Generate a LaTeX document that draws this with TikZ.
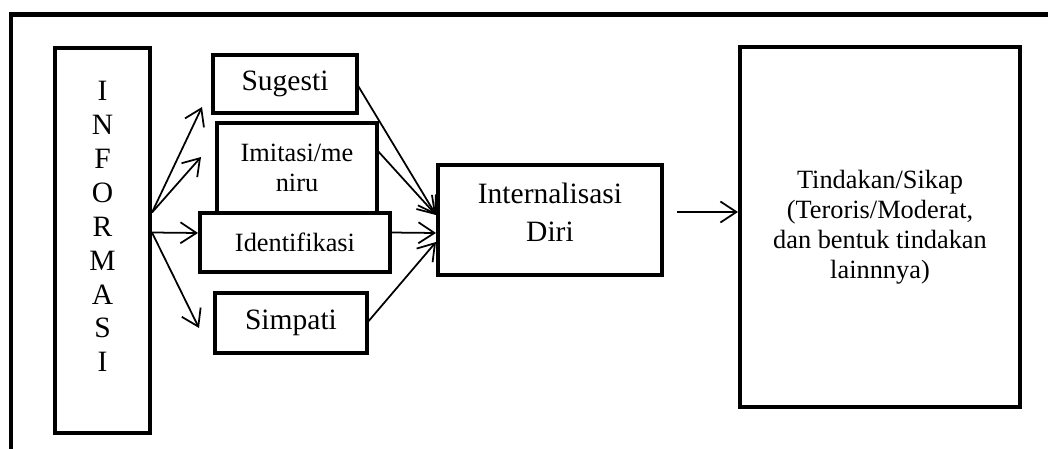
\documentclass[tikz,border=0pt]{standalone}
\usepackage{fontspec}
\setmainfont{Liberation Serif}
\usetikzlibrary{arrows.meta,calc}
\begin{document}
\begin{tikzpicture}[x=0.02cm,y=-0.02cm,
  box/.style={draw,line width=0.08cm,fill=white,inner sep=0pt,outer sep=0pt,align=center},
  arr/.style={line width=1pt,-{Straight Barb[length=0.32cm,width=0.42cm,line width=1pt]}},
  big/.style={font=\fontsize{16.8}{19.3}\selectfont},
  small/.style={font=\fontsize{15}{17}\selectfont}]
\useasboundingbox (0,0) rectangle (1048,449);
\draw[line width=0.1cm] (11,449) -- (11,15) -- (1048,15);

\node[box,big,minimum width=1.9cm,minimum height=7.7cm] (info) at (102.5,240.5) {I\\N\\F\\O\\R\\M\\A\\S\\I\\[-0.12cm]\mbox{}};
\node[box,big,minimum width=2.88cm,minimum height=1.16cm] (sugesti) at (285,84) {Sugesti};
\node[box,small,minimum width=3.2cm,minimum height=1.8cm] (imitasi) at (297,168) {Imitasi/me\\niru};
\node[box,small,minimum width=3.8cm,minimum height=1.18cm] (identifikasi) at (295,242.5) {Identifikasi};
\node[box,big,minimum width=3.04cm,minimum height=1.2cm] (simpati) at (291,323) {Simpati};
\node[box,font=\fontsize{16.8}{22}\selectfont,minimum width=4.48cm,minimum height=2.2cm] (intern) at (550,220) {Internalisasi\\Diri\\[-0.46cm]\mbox{}};
\node[box,small,minimum width=5.6cm,minimum height=7.2cm] (tindakan) at (880,227) {Tindakan/Sikap\\(Teroris/Moderat,\\dan bentuk tindakan\\lainnnya)};

\coordinate (f1) at ($(info.east)+(2,-28)$);
\coordinate (f2) at ($(info.east)+(2,-8)$);
\coordinate (t1) at (202,107);
\coordinate (t2) at (201,157);
\coordinate (t3) at (198,233);
\coordinate (t4) at (199,328);
\coordinate (i1) at (436,215);
\coordinate (i3) at (436,233);
\coordinate (i4) at (436,242);
\coordinate (o1) at (677,212);
\coordinate (o2) at (738,212);

\draw[arr] (f1) -- (t1);
\draw[arr] (f1) -- (t2);
\draw[arr] (f2) -- (t3);
\draw[arr] (f2) -- (t4);
\draw[arr] (sugesti.east) -- (i1);
\draw[arr] ($(imitasi.east)+(0,-18)$) -- (i1);
\draw[arr] ($(identifikasi.east)+(0,-10)$) -- (i3);
\draw[arr] (simpati.east) -- (i4);
\draw[arr] (o1) -- (o2);
\end{tikzpicture}
\end{document}
